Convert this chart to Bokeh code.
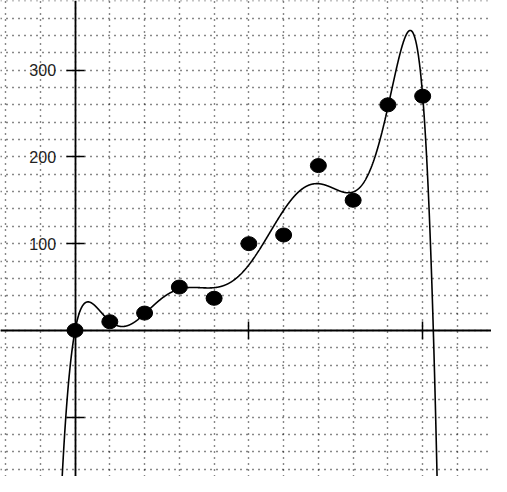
import numpy as np
from bokeh.plotting import figure
from bokeh.models import Range1d, FixedTicker, SingleIntervalTicker
from bokeh.embed import file_html
from bokeh.resources import INLINE

# data
x_pts = [0, 1, 2, 3, 4, 5, 6, 7, 8, 9, 10]
y_pts = [0, 10, 20, 50, 37, 100, 110, 190, 150, 260, 270]
y_ticks = [-100, 100, 200, 300]
y_tick_labels = {-100: "", 100: "100", 200: "200", 300: "300"}
x_ticks = [5, 10]
fit_degree = 8

# least-squares polynomial fit of the points
coef = np.polyfit(x_pts, y_pts, fit_degree)
xs = np.linspace(-2.2, 12.1, 3000)
ys = np.polyval(coef, xs)
ys = np.where(np.abs(ys) > 3000, np.nan, ys)

p = figure(width=491, height=476,
           x_range=Range1d(-2.145, 11.98), y_range=Range1d(-168.4, 380.3),
           output_backend="svg", toolbar_location=None, min_border=0)
p.outline_line_color = None
p.background_fill_color = "white"

p.xaxis.fixed_location = 0
p.yaxis.fixed_location = 0
p.yaxis.ticker = FixedTicker(ticks=y_ticks)
p.yaxis.major_label_overrides = y_tick_labels
p.xaxis.ticker = FixedTicker(ticks=x_ticks)
p.xaxis.major_label_overrides = {5: "", 10: ""}
p.axis.minor_tick_line_color = None
p.axis.major_tick_in = 9
p.axis.major_tick_out = 9
p.axis.axis_line_width = 1.8
p.axis.major_tick_line_width = 1.5
p.axis.axis_line_color = "black"
p.axis.major_tick_line_color = "black"
p.yaxis.major_label_standoff = 10
p.yaxis.major_label_text_font = "Liberation Sans"
p.yaxis.major_label_text_font_size = "16px"
p.yaxis.major_label_text_color = "#222222"

p.xgrid.ticker = SingleIntervalTicker(interval=1)
p.ygrid.ticker = SingleIntervalTicker(interval=20)
p.grid.grid_line_dash = "1 5"
p.grid.grid_line_color = "#111111"
p.grid.grid_line_width = 1.4
p.grid.grid_line_alpha = 1

p.line(xs, ys, line_color="black", line_width=1.6)
p.ellipse(x=x_pts, y=y_pts, width=16, height=14, width_units="screen",
          height_units="screen", fill_color="black", line_color="black")

open("out.html", "w").write(file_html(p, INLINE))
